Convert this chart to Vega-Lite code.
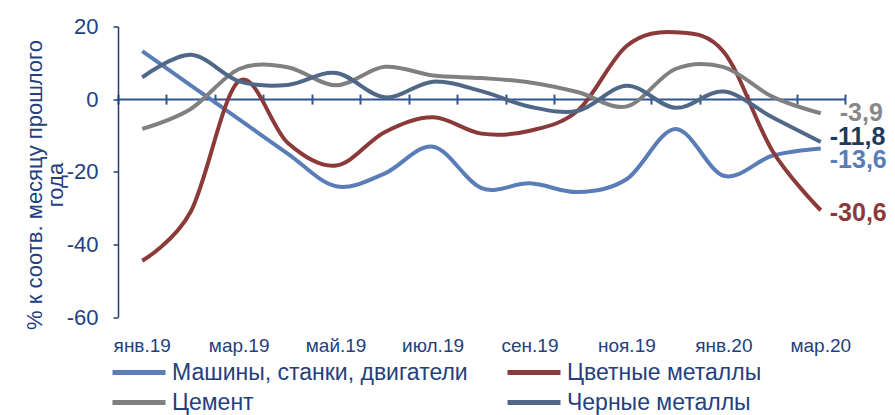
{
  "$schema": "https://vega.github.io/schema/vega-lite/v6.json",
  "autosize": {"type": "none"},
  "width": 727,
  "height": 290.5,
  "padding": {"left": 118, "top": 26.5, "right": 50, "bottom": 98},
  "background": "white",
  "config": {"view": {"stroke": null}, "font": "Liberation Sans"},
  "data": {"values": [
    {"m": "янв.19", "s": "Машины,  станки, двигатели", "v": 13.2},
    {"m": "фев.19", "s": "Машины,  станки, двигатели", "v": 3.8},
    {"m": "мар.19", "s": "Машины,  станки, двигатели", "v": -5.6},
    {"m": "апр.19", "s": "Машины,  станки, двигатели", "v": -15},
    {"m": "май.19", "s": "Машины,  станки, двигатели", "v": -24},
    {"m": "июн.19", "s": "Машины,  станки, двигатели", "v": -20.5},
    {"m": "июл.19", "s": "Машины,  станки, двигатели", "v": -13.1},
    {"m": "авг.19", "s": "Машины,  станки, двигатели", "v": -24.5},
    {"m": "сен.19", "s": "Машины,  станки, двигатели", "v": -23.2},
    {"m": "окт.19", "s": "Машины,  станки, двигатели", "v": -25.6},
    {"m": "ноя.19", "s": "Машины,  станки, двигатели", "v": -22},
    {"m": "дек.19", "s": "Машины,  станки, двигатели", "v": -8.2},
    {"m": "янв.20", "s": "Машины,  станки, двигатели", "v": -21.1},
    {"m": "фев.20", "s": "Машины,  станки, двигатели", "v": -15.6},
    {"m": "мар.20", "s": "Машины,  станки, двигатели", "v": -13.6},
    {"m": "янв.19", "s": "Цветные металлы", "v": -44.5},
    {"m": "фев.19", "s": "Цветные металлы", "v": -31},
    {"m": "мар.19", "s": "Цветные металлы", "v": 5},
    {"m": "апр.19", "s": "Цветные металлы", "v": -12},
    {"m": "май.19", "s": "Цветные металлы", "v": -18.3},
    {"m": "июн.19", "s": "Цветные металлы", "v": -9.1},
    {"m": "июл.19", "s": "Цветные металлы", "v": -5},
    {"m": "авг.19", "s": "Цветные металлы", "v": -9.5},
    {"m": "сен.19", "s": "Цветные металлы", "v": -8.7},
    {"m": "окт.19", "s": "Цветные металлы", "v": -3},
    {"m": "ноя.19", "s": "Цветные металлы", "v": 14.7},
    {"m": "дек.19", "s": "Цветные металлы", "v": 18.4},
    {"m": "янв.20", "s": "Цветные металлы", "v": 13},
    {"m": "фев.20", "s": "Цветные металлы", "v": -14.2},
    {"m": "мар.20", "s": "Цветные металлы", "v": -30.6},
    {"m": "янв.19", "s": "Цемент", "v": -8.2},
    {"m": "фев.19", "s": "Цемент", "v": -2.7},
    {"m": "мар.19", "s": "Цемент", "v": 8.3},
    {"m": "апр.19", "s": "Цемент", "v": 8.8},
    {"m": "май.19", "s": "Цемент", "v": 3.8},
    {"m": "июн.19", "s": "Цемент", "v": 8.9},
    {"m": "июл.19", "s": "Цемент", "v": 6.5},
    {"m": "авг.19", "s": "Цемент", "v": 5.8},
    {"m": "сен.19", "s": "Цемент", "v": 4.6},
    {"m": "окт.19", "s": "Цемент", "v": 1.9},
    {"m": "ноя.19", "s": "Цемент", "v": -2},
    {"m": "дек.19", "s": "Цемент", "v": 8.3},
    {"m": "янв.20", "s": "Цемент", "v": 8.8},
    {"m": "фев.20", "s": "Цемент", "v": 0.7},
    {"m": "мар.20", "s": "Цемент", "v": -3.9},
    {"m": "янв.19", "s": "Черные металлы", "v": 6},
    {"m": "фев.19", "s": "Черные металлы", "v": 12.2},
    {"m": "мар.19", "s": "Черные металлы", "v": 4.9},
    {"m": "апр.19", "s": "Черные металлы", "v": 3.9},
    {"m": "май.19", "s": "Черные металлы", "v": 7.2},
    {"m": "июн.19", "s": "Черные металлы", "v": 0.5},
    {"m": "июл.19", "s": "Черные металлы", "v": 4.8},
    {"m": "авг.19", "s": "Черные металлы", "v": 2.2},
    {"m": "сен.19", "s": "Черные металлы", "v": -2.1},
    {"m": "окт.19", "s": "Черные металлы", "v": -3.2},
    {"m": "ноя.19", "s": "Черные металлы", "v": 3.7},
    {"m": "дек.19", "s": "Черные металлы", "v": -2.4},
    {"m": "янв.20", "s": "Черные металлы", "v": 2.1},
    {"m": "фев.20", "s": "Черные металлы", "v": -5},
    {"m": "мар.20", "s": "Черные металлы", "v": -11.8}
  ]},
  "layer": [
    {
      "mark": {"type": "line", "opacity": 0},
      "encoding": {
        "x": {"field": "m", "type": "ordinal", "bandPosition": 0.5,
          "scale": {"type": "band", "paddingInner": 0, "paddingOuter": 0, "domain": ["янв.19","фев.19","мар.19","апр.19","май.19","июн.19","июл.19","авг.19","сен.19","окт.19","ноя.19","дек.19","янв.20","фев.20","мар.20"]},
          "axis": {"orient": "top", "offset": -72.6, "labels": false, "title": null, "grid": false, "domain": true, "domainColor": "#2E5591", "domainWidth": 2, "ticks": true, "tickBand": "extent", "tickSize": 5, "tickWidth": 2, "tickColor": "#2E5591"}},
        "y": {"field": "v", "type": "quantitative"},
        "detail": {"field": "s"}
      }
    },
    {
      "mark": {"type": "line", "opacity": 0},
      "encoding": {
        "x": {"field": "m", "type": "ordinal", "bandPosition": 0.5,
          "axis": {"orient": "bottom", "offset": -217.9, "labels": false, "title": null, "grid": false, "domain": false, "ticks": true, "tickBand": "extent", "tickSize": 5, "tickWidth": 2, "tickColor": "#2E5591"}},
        "y": {"field": "v", "type": "quantitative"},
        "detail": {"field": "s"}
      }
    },
    {
      "mark": {"type": "line", "interpolate": "cardinal", "strokeWidth": 4},
      "encoding": {
        "x": {"field": "m", "type": "ordinal", "bandPosition": 0.5,
          "axis": {"orient": "bottom", "domain": false, "ticks": false, "grid": false, "title": null, "labelAngle": 0, "labelPadding": 19, "labelFontSize": 19, "labelColor": "#24407E",
            "labelExpr": "indexof(['фев.19','апр.19','июн.19','авг.19','окт.19','дек.19','фев.20'], datum.value) >= 0 ? '' : datum.value"}},
        "y": {"field": "v", "type": "quantitative",
          "scale": {"domain": [-60, 20], "nice": false, "zero": false},
          "axis": {"values": [-60, -40, -20, 0, 20], "labelExpr": "toString(datum.value)", "grid": false, "domain": true, "domainColor": "#1F3F7A", "domainWidth": 1.5, "ticks": true, "tickSize": 5, "tickWidth": 1.5, "tickColor": "#1F3F7A", "labelFontSize": 22, "labelColor": "#24407E", "labelPadding": 15,
            "title": ["% к соотв. месяцу прошлого", "года"], "titleFontSize": 22, "titleFontWeight": "normal", "titleColor": "#24407E", "titleLineHeight": 21, "titleX": -72, "titleY": 158, "titleBaseline": "bottom", "titleAngle": -90, "titleAlign": "center"}},
        "color": {"field": "s", "type": "nominal",
          "scale": {"domain": ["Машины,  станки, двигатели", "Цемент", "Цветные металлы", "Черные металлы"], "range": ["#5A7DB8", "#808080", "#8B3A3A", "#4F6888"]},
          "legend": {"orient": "none", "legendX": -8, "legendY": 334, "columns": 2, "title": null, "symbolType": "stroke", "symbolSize": 2809, "symbolStrokeWidth": 5, "labelFontSize": 23, "labelColor": "#24407E", "labelOffset": 4, "columnPadding": 30, "rowPadding": 6, "clipHeight": 24, "labelLimit": 400}}
      }
    },
    {
      "transform": [{"filter": "datum.m == 'мар.20' && datum.s == 'Цемент'"}, {"calculate": "replace(toString(datum.v), '.', ',')", "as": "lbl"}],
      "mark": {"type": "text", "align": "left", "baseline": "middle", "dx": 19, "dy": 0, "fontSize": 25, "fontWeight": "bold", "color": "#888888"},
      "encoding": {"x": {"field": "m", "type": "ordinal", "bandPosition": 0.5, "axis": null}, "y": {"field": "v", "type": "quantitative"}, "text": {"field": "lbl"}}
    },
    {
      "transform": [{"filter": "datum.m == 'мар.20' && datum.s == 'Черные металлы'"}, {"calculate": "replace(toString(datum.v), '.', ',')", "as": "lbl"}],
      "mark": {"type": "text", "align": "left", "baseline": "middle", "dx": 9, "dy": -5, "fontSize": 25, "fontWeight": "bold", "color": "#1F3A5F"},
      "encoding": {"x": {"field": "m", "type": "ordinal", "bandPosition": 0.5, "axis": null}, "y": {"field": "v", "type": "quantitative"}, "text": {"field": "lbl"}}
    },
    {
      "transform": [{"filter": "datum.m == 'мар.20' && datum.s == 'Машины,  станки, двигатели'"}, {"calculate": "replace(toString(datum.v), '.', ',')", "as": "lbl"}],
      "mark": {"type": "text", "align": "left", "baseline": "middle", "dx": 9, "dy": 11, "fontSize": 25, "fontWeight": "bold", "color": "#5A7DB8"},
      "encoding": {"x": {"field": "m", "type": "ordinal", "bandPosition": 0.5, "axis": null}, "y": {"field": "v", "type": "quantitative"}, "text": {"field": "lbl"}}
    },
    {
      "transform": [{"filter": "datum.m == 'мар.20' && datum.s == 'Цветные металлы'"}, {"calculate": "replace(toString(datum.v), '.', ',')", "as": "lbl"}],
      "mark": {"type": "text", "align": "left", "baseline": "middle", "dx": 9, "dy": 3, "fontSize": 25, "fontWeight": "bold", "color": "#8B3A3A"},
      "encoding": {"x": {"field": "m", "type": "ordinal", "bandPosition": 0.5, "axis": null}, "y": {"field": "v", "type": "quantitative"}, "text": {"field": "lbl"}}
    }
  ],
  "resolve": {"axis": {"x": "independent"}}
}
